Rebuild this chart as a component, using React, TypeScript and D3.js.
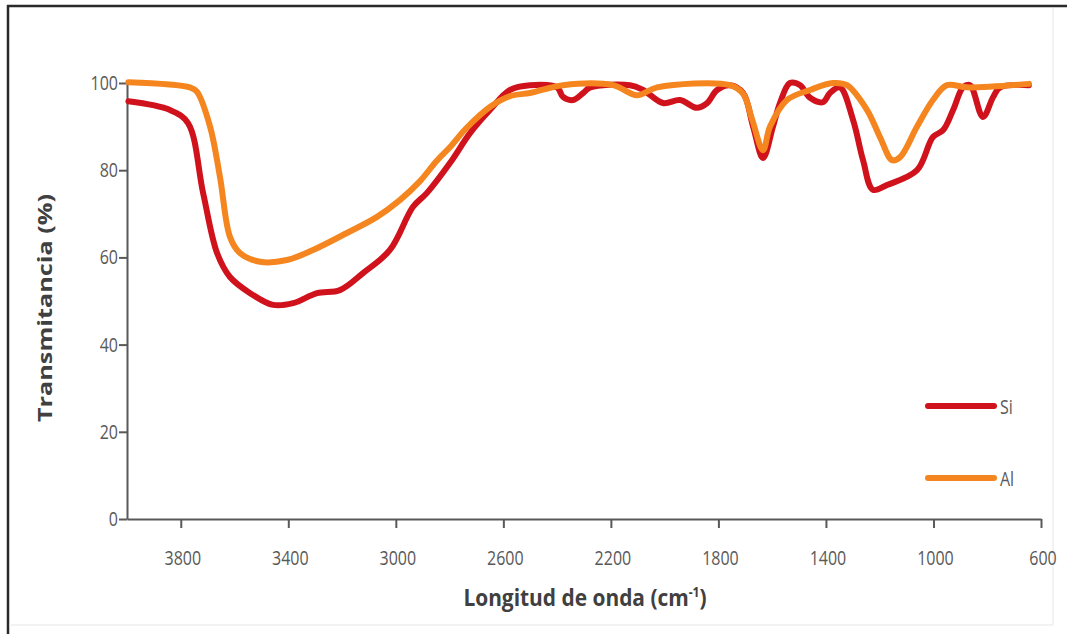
import React, { useEffect, useRef } from "react";
import * as d3 from "d3";

// FTIR spectra: transmittance (%) versus wavenumber (cm-1)
const siWavenumber = [3995, 3840, 3773, 3717, 3665, 3617, 3542, 3457, 3382, 3293, 3208, 3122, 3022, 2936, 2884, 2798, 2724, 2650, 2575, 2501, 2400, 2378, 2341, 2303, 2277, 2129, 2080, 2006, 1943, 1880, 1842, 1805, 1757, 1708, 1671, 1634, 1597, 1571, 1534, 1496, 1459, 1411, 1385, 1348, 1299, 1262, 1225, 1173, 1061, 1002, 964, 927, 890, 864, 816, 778, 752, 645];
const siTransmittance = [95.8, 93.8, 90.8, 74.8, 61, 55.5, 51.8, 49.1, 49.5, 51.8, 52.5, 56.4, 61.7, 71.6, 74.8, 81.7, 88.5, 93.8, 98.4, 99.5, 99, 96.8, 96.1, 97.7, 99, 99.5, 98.4, 95.4, 96.1, 94.3, 95.4, 98.4, 99.5, 97.7, 90, 82.8, 90, 95.4, 100, 99.5, 96.6, 95.6, 97.7, 99, 91.5, 82.3, 75.5, 76.6, 80, 87.6, 89.2, 93.8, 99, 99.5, 92.2, 96.8, 99, 99.5];

const alWavenumber = [3995, 3766, 3740, 3691, 3654, 3617, 3580, 3505, 3405, 3308, 3182, 3070, 2984, 2910, 2850, 2798, 2740, 2650, 2575, 2501, 2378, 2192, 2103, 2028, 1757, 1708, 1674, 1634, 1608, 1545, 1459, 1374, 1322, 1247, 1199, 1154, 1124, 1061, 1002, 950, 875, 645];
const alTransmittance = [100.2, 99, 98, 90, 78.4, 64.7, 61, 59, 59.4, 61.7, 65.6, 69.3, 73.2, 77.5, 82, 85.3, 89.5, 94.5, 97, 97.7, 99.5, 99.5, 97.2, 99, 99.5, 97.5, 91.5, 84.6, 90, 96.1, 98.4, 100, 99.5, 93.8, 87.6, 82.3, 83, 90, 96.1, 99.5, 99, 99.8];

const xTicks = [3800, 3400, 3000, 2600, 2200, 1800, 1400, 1000, 600];
const yTicks = [0, 20, 40, 60, 80, 100];

const seriesNames = ["Si", "Al"];
const seriesColors = ["#d0121c", "#f5861f"];

const W = 1067;
const H = 634;
const margin = { left: 127, right: 26, top: 83, bottom: 115 };

const FONT = "'Open Sans', sans-serif";
const GREY = "#595959";

type TextOpts = {
  size: number;
  weight?: number;
  anchor?: string;
  sx?: number;
  sy?: number;
  rotate?: number;
  fill?: string;
};

// places a text node at (x, y) with an optional rotation and anisotropic scale
function addText(
  parent: d3.Selection<any, unknown, null, undefined>,
  x: number,
  y: number,
  str: string,
  o: TextOpts
) {
  return parent
    .append("text")
    .attr("transform", `translate(${x},${y}) rotate(${o.rotate ?? 0}) scale(${o.sx ?? 1},${o.sy ?? 1})`)
    .attr("text-anchor", o.anchor ?? "start")
    .style("font-family", FONT)
    .style("font-size", `${o.size}px`)
    .style("font-weight", o.weight ?? 400)
    .attr("fill", o.fill ?? GREY)
    .text(str);
}

export default function App() {
  const ref = useRef<SVGSVGElement>(null);

  useEffect(() => {
    const svg = d3.select(ref.current);
    svg.selectAll("*").remove();

    const x = d3.scaleLinear().domain([4000, 600]).range([margin.left, W - margin.right]);
    const y = d3.scaleLinear().domain([0, 100]).range([H - margin.bottom, margin.top]);

    // frame
    svg.append("line").attr("x1", 8).attr("x2", 8).attr("y1", 5).attr("y2", H).attr("stroke", "#2a2a2a").attr("stroke-width", 2.5);
    svg.append("line").attr("x1", 7).attr("x2", W).attr("y1", 6).attr("y2", 6).attr("stroke", "#2a2a2a").attr("stroke-width", 2.5);
    svg.append("line").attr("x1", 1053).attr("x2", 1053).attr("y1", 8).attr("y2", 625).attr("stroke", "#e6e6e6").attr("stroke-width", 1);
    svg.append("line").attr("x1", 9).attr("x2", 1053).attr("y1", 625).attr("y2", 625).attr("stroke", "#e6e6e6").attr("stroke-width", 1);

    // x axis
    const xAxis = svg.append("g").attr("transform", `translate(0,${H - margin.bottom})`)
      .call(d3.axisBottom(x).tickValues(xTicks).tickSize(9).tickSizeOuter(0).tickFormat(() => ""));
    xAxis.select(".domain").attr("stroke", GREY).attr("stroke-width", 2);
    xAxis.selectAll(".tick line").attr("stroke", GREY).attr("stroke-width", 2);
    xTicks.forEach((v) =>
      addText(svg, x(v) + 2, 565, d3.format("d")(v), { size: 16, anchor: "middle", sy: 1.3 })
    );

    // y axis
    const yAxis = svg.append("g").attr("transform", `translate(${margin.left},0)`)
      .call(d3.axisLeft(y).tickValues(yTicks).tickSize(8).tickSizeOuter(0).tickFormat(() => ""));
    yAxis.select(".domain").attr("stroke", GREY).attr("stroke-width", 2);
    yAxis.selectAll(".tick line").attr("stroke", GREY).attr("stroke-width", 2);
    yTicks.forEach((v) =>
      addText(svg, 118, y(v) + 7, d3.format("d")(v), { size: 16, anchor: "end", sy: 1.3 })
    );

    // axis titles
    addText(svg, 52, 308, "Transmitancia (%)", {
      size: 19, weight: 700, anchor: "middle", rotate: -90, sx: 1.33, fill: "#404040",
    });

    const xt = addText(svg, 585, 606, "", { size: 19, weight: 700, anchor: "middle", sx: 1.1, sy: 1.25, fill: "#404040" });
    xt.append("tspan").text("Longitud de onda (cm");
    xt.append("tspan").attr("dy", -7).style("font-size", "11px").text("-1");
    xt.append("tspan").attr("dy", 7).text(")");

    // spectra
    const line = d3.line<[number, number]>()
      .x((d) => x(d[0]))
      .y((d) => y(d[1]))
      .curve(d3.curveCatmullRom.alpha(0.5));

    const series: [number, number][][] = [
      siWavenumber.map((w, i) => [w, siTransmittance[i]]),
      alWavenumber.map((w, i) => [w, alTransmittance[i]]),
    ];

    series.forEach((s, i) => {
      svg.append("path")
        .datum(s)
        .attr("d", line)
        .attr("fill", "none")
        .attr("stroke", seriesColors[i])
        .attr("stroke-width", 6)
        .attr("stroke-linejoin", "round")
        .attr("stroke-linecap", "round");
    });

    // legend
    const legendY = [406, 478];
    seriesNames.forEach((name, i) => {
      svg.append("line")
        .attr("x1", 928).attr("x2", 994)
        .attr("y1", legendY[i]).attr("y2", legendY[i])
        .attr("stroke", seriesColors[i]).attr("stroke-width", 6).attr("stroke-linecap", "round");
      addText(svg, 1000, legendY[i] + 8, name, { size: 16, sy: 1.3 });
    });
  }, []);

  return (
    <svg
      ref={ref}
      width={W}
      height={H}
      style={{ position: "absolute", left: 0, top: 0, background: "#fff", display: "block" }}
    />
  );
}
